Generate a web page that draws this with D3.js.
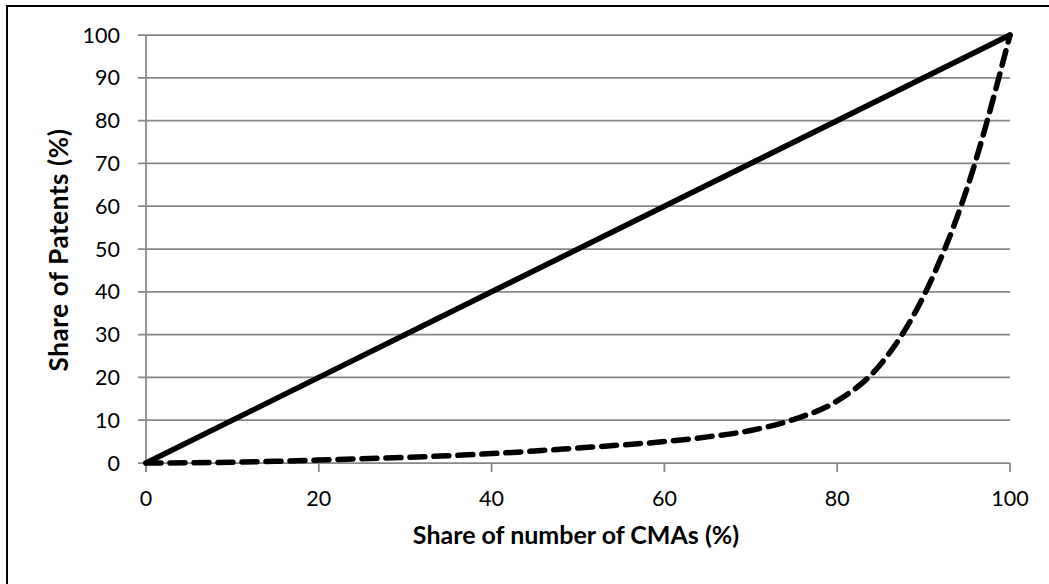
<!DOCTYPE html>
<html>
<head>
<meta charset="utf-8">
<script src="https://cdn.jsdelivr.net/npm/d3@7"></script>
<style>
  html, body { margin: 0; padding: 0; background: #fff; }
  svg { display: block; }
  .tick-label { font-family: Lato, "Open Sans", sans-serif; font-size: 21.5px; fill: #000; }
  .axis-title { font-family: Lato, "Open Sans", sans-serif; font-size: 25px; font-weight: bold; fill: #000; }
  .axis-title.y { font-size: 26px; letter-spacing: 0.6px; }
</style>
</head>
<body>
<svg id="chart" width="1049" height="584"></svg>
<script>
// share of CMAs (%)
var cmaShare = [0, 5, 10, 15, 20, 25, 30, 35, 40, 45, 50, 55, 60, 65, 70, 75, 80, 85, 90, 95, 100];
// share of patents (%), Lorenz curve
var patentShare = [0, 0.05, 0.2, 0.4, 0.7, 1.0, 1.3, 1.7, 2.2, 2.8, 3.5, 4.2, 5.0, 6.1, 7.6, 10.2, 14.5, 23, 39, 64, 100];
// line of equality
var equalityX = [0, 100];
var equalityY = [0, 100];

var xTicks = [0, 20, 40, 60, 80, 100];
var yTicks = [0, 10, 20, 30, 40, 50, 60, 70, 80, 90, 100];

var xTitle = "Share of number of CMAs (%)";
var yTitle = "Share of Patents (%)";

function init() {
    var svg = d3.select("#chart");

    // outer frame
    svg.append("rect")
        .attr("x", 7).attr("y", 6)
        .attr("width", 1060).attr("height", 600)
        .attr("fill", "none")
        .attr("stroke", "#000")
        .attr("stroke-width", 2);

    var x = d3.scaleLinear().domain([0, 100]).range([146, 1010]);
    var y = d3.scaleLinear().domain([0, 100]).range([463, 35]);

    var grid = svg.append("g");

    // horizontal gridlines with small ticks on the left
    grid.selectAll("line.h")
        .data(yTicks)
        .enter()
        .append("line")
        .attr("class", "h")
        .attr("x1", 138)
        .attr("x2", x(100))
        .attr("y1", function (d) { return y(d); })
        .attr("y2", function (d) { return y(d); })
        .attr("stroke", "#878787")
        .attr("stroke-width", 1.75);

    // vertical axis line
    grid.append("line")
        .attr("x1", x(0)).attr("x2", x(0))
        .attr("y1", y(100)).attr("y2", y(0) + 9)
        .attr("stroke", "#878787")
        .attr("stroke-width", 1.75);

    // x ticks
    grid.selectAll("line.xt")
        .data(xTicks)
        .enter()
        .append("line")
        .attr("class", "xt")
        .attr("x1", function (d) { return x(d); })
        .attr("x2", function (d) { return x(d); })
        .attr("y1", y(0))
        .attr("y2", y(0) + 9)
        .attr("stroke", "#878787")
        .attr("stroke-width", 1.75);

    // y tick labels
    svg.append("g").selectAll("text")
        .data(yTicks)
        .enter()
        .append("text")
        .attr("class", "tick-label")
        .attr("x", 120)
        .attr("y", function (d) { return y(d); })
        .attr("dy", "0.35em")
        .attr("text-anchor", "end")
        .text(function (d) { return d; });

    // x tick labels
    svg.append("g").selectAll("text")
        .data(xTicks)
        .enter()
        .append("text")
        .attr("class", "tick-label")
        .attr("x", function (d) { return x(d); })
        .attr("y", 498)
        .attr("dy", "0.35em")
        .attr("text-anchor", "middle")
        .text(function (d) { return d; });

    // axis titles
    svg.append("text")
        .attr("class", "axis-title")
        .attr("x", 576)
        .attr("y", 535)
        .attr("dy", "0.35em")
        .attr("text-anchor", "middle")
        .text(xTitle);

    svg.append("text")
        .attr("class", "axis-title y")
        .attr("transform", "translate(59,250) rotate(-90)")
        .attr("dy", "0.35em")
        .attr("text-anchor", "middle")
        .text(yTitle);

    // line of equality
    var straight = d3.line()
        .x(function (d) { return x(d[0]); })
        .y(function (d) { return y(d[1]); });

    svg.append("path")
        .datum(d3.zip(equalityX, equalityY))
        .attr("d", straight)
        .attr("fill", "none")
        .attr("stroke", "#000")
        .attr("stroke-width", 5.5)
        .attr("stroke-linecap", "round");

    // lorenz curve, dashed
    var smooth = d3.line()
        .curve(d3.curveMonotoneX)
        .x(function (d) { return x(d[0]); })
        .y(function (d) { return y(d[1]); });

    svg.append("path")
        .datum(d3.zip(cmaShare, patentShare))
        .attr("d", smooth)
        .attr("fill", "none")
        .attr("stroke", "#000")
        .attr("stroke-width", 5.5)
        .attr("stroke-linecap", "round")
        .attr("stroke-dasharray", "15,9");
}

init();
</script>
</body>
</html>
